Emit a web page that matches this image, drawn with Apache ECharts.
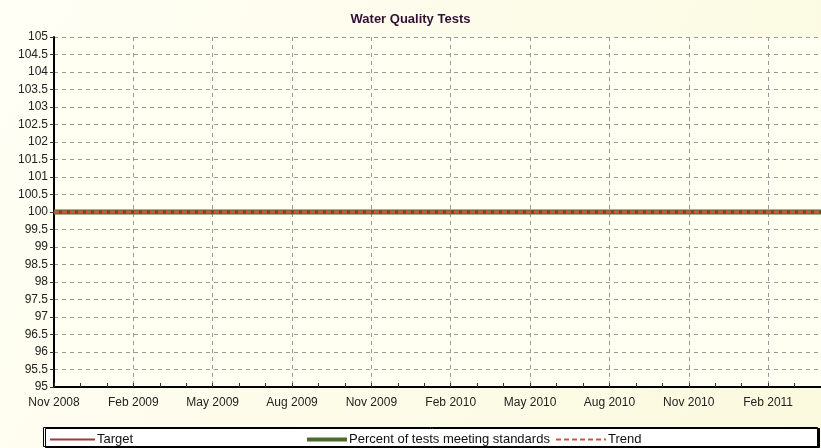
<!DOCTYPE html>
<html>
<head>
<meta charset="utf-8">
<script src="https://cdn.jsdelivr.net/npm/echarts@6/dist/echarts.min.js"></script>
<style>
  html, body { margin: 0; padding: 0; }
  #chart { width: 821px; height: 448px; }
</style>
</head>
<body>
<div id="chart"></div>
<script>
// monthly categories, Nov 2008 .. Apr 2011
const months = [
  'Nov 2008', 'Dec 2008', 'Jan 2009', 'Feb 2009', 'Mar 2009', 'Apr 2009', 'May 2009', 'Jun 2009',
  'Jul 2009', 'Aug 2009', 'Sep 2009', 'Oct 2009', 'Nov 2009', 'Dec 2009', 'Jan 2010', 'Feb 2010',
  'Mar 2010', 'Apr 2010', 'May 2010', 'Jun 2010', 'Jul 2010', 'Aug 2010', 'Sep 2010', 'Oct 2010',
  'Nov 2010', 'Dec 2010', 'Jan 2011', 'Feb 2011', 'Mar 2011', 'Apr 2011'
]
const target = [
  100, 100, 100, 100, 100, 100, 100, 100, 100, 100, 100, 100, 100, 100, 100,
  100, 100, 100, 100, 100, 100, 100, 100, 100, 100, 100, 100, 100, 100, 100
]
const percentMeeting = [
  100, 100, 100, 100, 100, 100, 100, 100, 100, 100, 100, 100, 100, 100, 100,
  100, 100, 100, 100, 100, 100, 100, 100, 100, 100, 100, 100, 100, 100, 100
]
const trend = [
  100, 100, 100, 100, 100, 100, 100, 100, 100, 100, 100, 100, 100, 100, 100,
  100, 100, 100, 100, 100, 100, 100, 100, 100, 100, 100, 100, 100, 100, 100
]

const chart = echarts.init(document.getElementById('chart'))
const font = 'Liberation Sans, Arial, sans-serif'
const legendText = { fontSize: 13, color: '#111', padding: [0, 0, 0, -3] }

chart.setOption({
  animation: false,
  backgroundColor: {
    type: 'linear', x: 0, y: 0, x2: 1, y2: 1,
    colorStops: [{ offset: 0, color: '#fffff6' }, { offset: 1, color: '#fbf9dd' }]
  },
  textStyle: { fontFamily: font },
  title: {
    text: 'Water Quality Tests',
    left: 'center',
    top: 8,
    textStyle: { fontSize: 13, fontWeight: 'bold', color: '#331133', fontFamily: font }
  },
  grid: {
    left: 54,
    right: -4,
    top: 37,
    bottom: 61,
    show: true,
    backgroundColor: '#fffff2',
    borderWidth: 0
  },
  xAxis: {
    type: 'category',
    data: months,
    boundaryGap: false,
    axisLine: { lineStyle: { color: '#000', width: 2 } },
    axisTick: { inside: true, length: 4, interval: 0, lineStyle: { color: '#333' } },
    axisLabel: { interval: 2, color: '#222', fontSize: 12, margin: 10 },
    splitLine: { show: true, interval: 2, lineStyle: { color: '#999', type: [4, 4] } }
  },
  yAxis: {
    type: 'value',
    min: 95,
    max: 105,
    interval: 0.5,
    axisLine: { show: true, lineStyle: { color: '#000', width: 2 } },
    axisTick: { show: true, length: 4, lineStyle: { color: '#333' } },
    axisLabel: { color: '#222', fontSize: 12, margin: 6 },
    splitLine: { lineStyle: { color: '#999', type: [4, 4] } }
  },
  graphic: [{
    type: 'rect',
    left: 43,
    top: 427,
    shape: { width: 774, height: 19 },
    style: { fill: '#fff', stroke: '#000', lineWidth: 1, shadowColor: '#000', shadowOffsetX: 2, shadowOffsetY: 1 },
    z: 0
  }],
  legend: [
    {
      data: [{ name: 'Target', icon: 'rect', itemStyle: { color: '#a03a3a' } }],
      left: 45, top: 428, itemWidth: 45, itemHeight: 2,
      textStyle: legendText
    },
    {
      data: ['Percent of tests meeting standards'], left: 300, top: 428, itemWidth: 40, itemHeight: 12,
      itemStyle: { opacity: 0 }, lineStyle: { width: 4, color: '#4d6b2c' },
      textStyle: legendText
    },
    {
      data: ['Trend'], left: 550, top: 428, itemWidth: 50, itemHeight: 12,
      itemStyle: { opacity: 0 }, lineStyle: { width: 2, color: '#d0573a' },
      textStyle: legendText
    }
  ],
  series: [
    {
      name: 'Percent of tests meeting standards',
      type: 'line',
      data: percentMeeting,
      symbol: 'none',
      color: '#4d6b2c',
      lineStyle: { width: 5, color: '#4d6b2c' },
      z: 2
    },
    {
      name: 'Target',
      type: 'line',
      data: target,
      symbol: 'none',
      color: '#8b2a2a',
      lineStyle: { width: 1, color: '#8b2a2a' },
      z: 3
    },
    {
      name: 'Trend',
      type: 'line',
      data: trend,
      symbol: 'none',
      color: '#d0573a',
      lineStyle: { width: 3, color: '#d0573a', type: [5, 3] },
      z: 4
    }
  ]
})
window.addEventListener('resize', () => chart.resize())
</script>
</body>
</html>
